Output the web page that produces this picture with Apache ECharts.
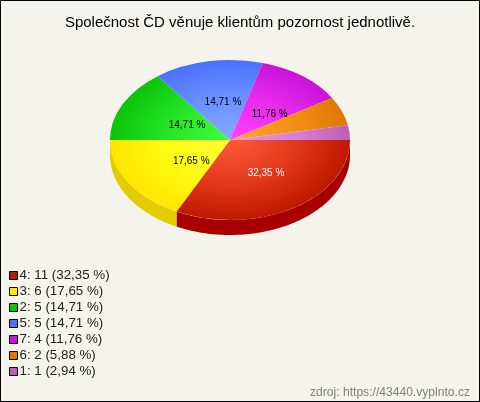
<!DOCTYPE html>
<html><head><meta charset="utf-8">
<style>html,body{margin:0;padding:0;background:#f5f4ec}#c{width:480px;height:402px}</style>
<script src="https://cdn.jsdelivr.net/npm/echarts@6/dist/echarts.min.js"></script>
</head><body><div id="c"></div>
<script>
const titleText = 'Společnost ČD věnuje klientům pozornost jednotlivě.';
const sourceText = 'zdroj: https://43440.vyplnto.cz';
const categories = ['4', '3', '2', '5', '7', '6', '1'];
const counts = [11, 6, 5, 5, 4, 2, 1];
const percents = ['32,35', '17,65', '14,71', '14,71', '11,76', '5,88', '2,94'];
const showLabel = [true, true, true, true, true, false, false];
const labelColors = ['#fff', '#000', '#000', '#000', '#000', '#000', '#000'];
const labelFrac = [[.57, .49], [.38, .5], [.40, .42], [.32, .48], [.55, .4], [0, 0], [0, 0]];
const edgeColors = ['#bf1800', '#ffe600', '#0ac40a', '#4a70ff', '#c814d8', '#e07800', '#bd5fb5'];
const midColors = ['#ff5a3c', '#ffff30', '#40ff40', '#88a8ff', '#ff40ff', '#ffa830', '#e898e0'];
const bodyColors = ['#e2381c', '#fffa14', '#24e424', '#6a90ff', '#e82cec', '#f49018', '#d880d2'];
const sideColors = ['#a80000', '#e3cc00', '#0a9a0a', '#3a58c8', '#a010a8', '#b06000', '#94508e'];

const CX = 230, CY = 140, RX = 120, RY = 80, DEPTH = 15;
const total = counts.reduce((a, b) => a + b, 0);
let acc = 0;
const starts = counts.map(v => { const s = acc; acc += v; return s / total * Math.PI * 2; });

function sideShape(a0, a1) {
  const lo = Math.max(a0, 0), hi = Math.min(a1, Math.PI);
  if (hi <= lo) return null;
  const top = [], bottom = [];
  const n = Math.ceil((hi - lo) / 0.02);
  for (let i = 0; i <= n; i++) {
    const a = lo + (hi - lo) * i / n;
    const x = CX + RX * Math.cos(a), y = CY + RY * Math.sin(a);
    top.push([x, y]);
    bottom.unshift([x, y + DEPTH]);
  }
  return top.concat(bottom);
}

const series = categories.map((c, i) => ({
  type: 'custom',
  name: c + ': ' + counts[i] + ' (' + percents[i] + ' %)',
  coordinateSystem: 'none',
  silent: true,
  itemStyle: { color: edgeColors[i] },
  data: [counts[i]],
  renderItem: function (params, api) {
    const a0 = starts[i];
    const a1 = a0 + api.value(0) / total * Math.PI * 2;
    const children = [];
    const pts = sideShape(a0, a1);
    if (pts) children.push({ type: 'polygon', shape: { points: pts }, style: { fill: sideColors[i] } });
    children.push({
      type: 'sector',
      originX: CX, originY: CY, scaleY: RY / RX,
      shape: { cx: CX, cy: CY, r0: 0, r: RX, startAngle: a0, endAngle: a1, clockwise: true },
      style: { fill: { type: 'radial', x: CX, y: CY, r: RX, global: true,
        colorStops: [{ offset: 0, color: midColors[i] }, { offset: 0.55, color: bodyColors[i] }, { offset: 1, color: edgeColors[i] }] } }
    });
    if (showLabel[i]) {
      const m = (a0 + a1) / 2;
      children.push({
        type: 'text', z2: 10,
        x: CX + RX * Math.cos(m) * labelFrac[i][0],
        y: CY + RY * Math.sin(m) * labelFrac[i][1],
        style: { text: percents[i] + ' %', fill: labelColors[i], align: 'center', verticalAlign: 'middle',
          font: '10px "Liberation Sans", Arial, sans-serif' }
      });
    }
    return { type: 'group', children };
  }
}));

const chart = echarts.init(document.getElementById('c'), null, { renderer: 'canvas' });
chart.setOption({
  animation: false,
  backgroundColor: '#f5f4ec',
  title: [
    { text: titleText, left: 'center', top: 10,
      textStyle: { fontFamily: '"Liberation Sans", Arial, sans-serif', fontSize: 15, fontWeight: 'normal', color: '#000' } },
    { text: sourceText, right: 5, top: 382,
      textStyle: { fontFamily: '"Liberation Sans", Arial, sans-serif', fontSize: 12.1, fontWeight: 'normal', color: '#808080' } }
  ],
  legend: {
    orient: 'vertical', left: 9, top: 268, padding: 0,
    itemWidth: 8, itemHeight: 8, itemGap: 1, icon: 'rect', selectedMode: false,
    itemStyle: { borderColor: '#000', borderWidth: 1 },
    textStyle: { fontFamily: '"Liberation Sans", Arial, sans-serif', fontSize: 13.33, color: '#222', lineHeight: 15, padding: [0,0,0,-3] },
    data: series.map(s => s.name)
  },
  graphic: [{ type: 'rect', z: 100, shape: { x: 0.5, y: 0.5, width: 479, height: 401 },
    style: { fill: 'none', stroke: '#000', lineWidth: 1 }, silent: true }],
  series
});
</script></body></html>
